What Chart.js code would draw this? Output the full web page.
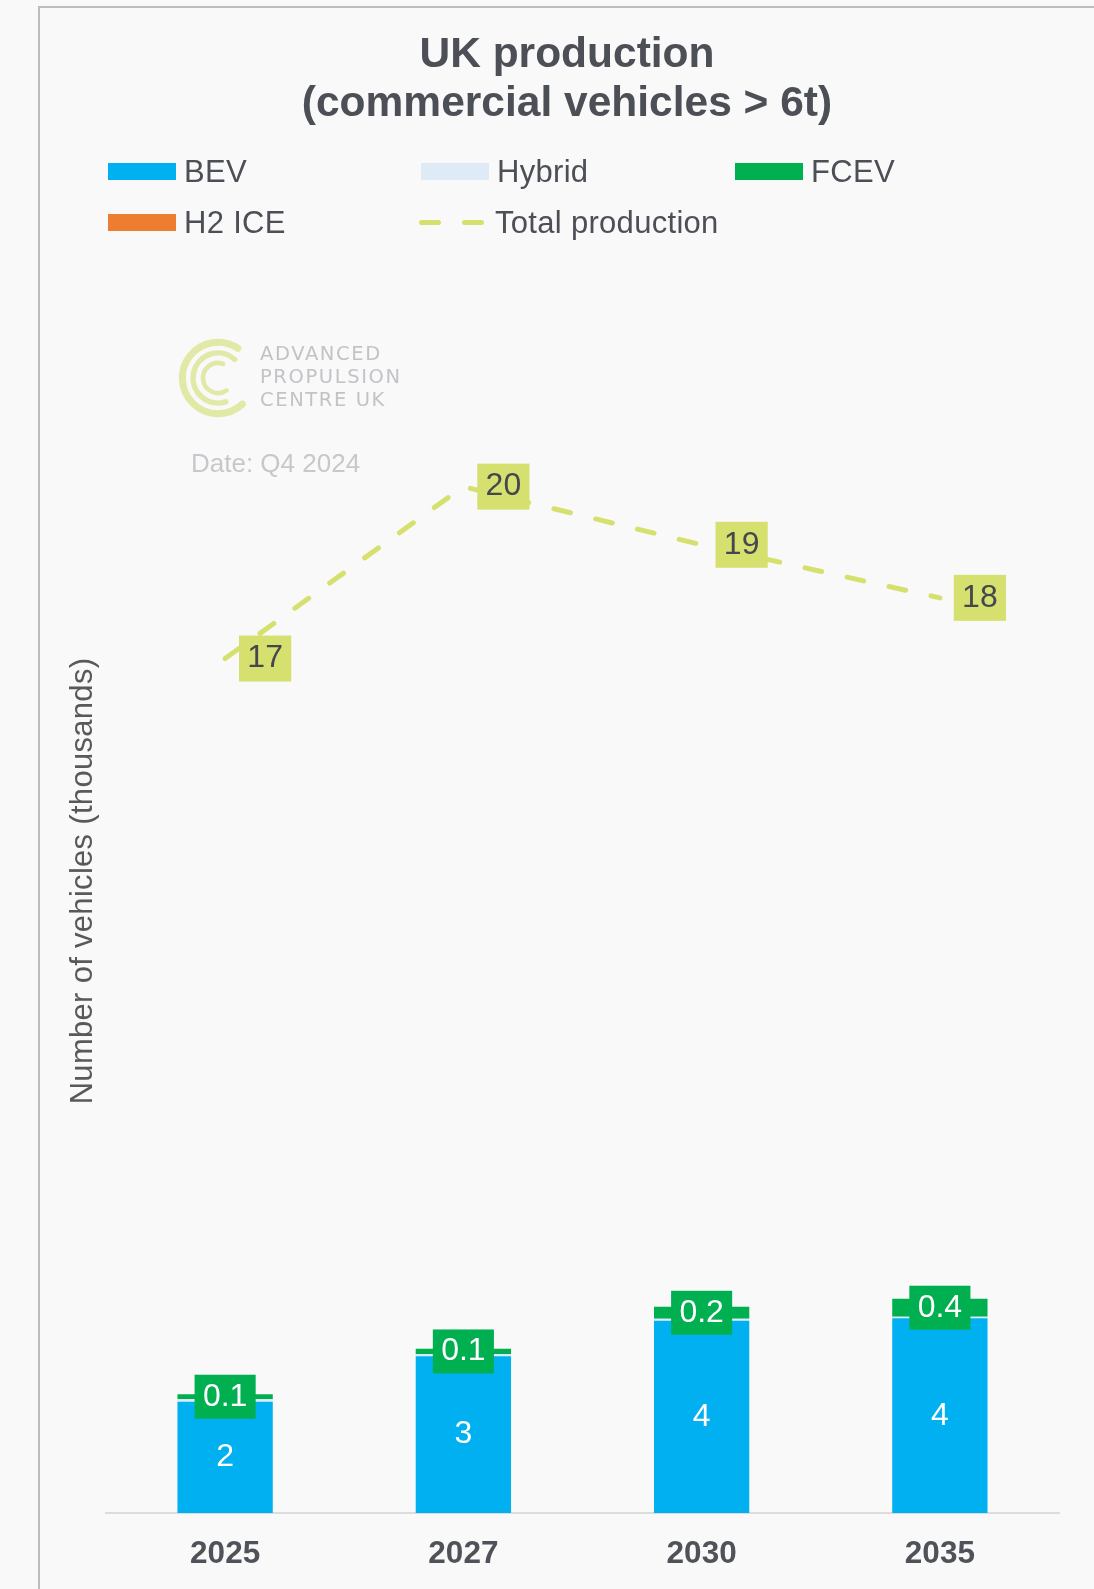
<!DOCTYPE html>
<html>
<head>
<meta charset="utf-8">
<title>UK production (commercial vehicles &gt; 6t)</title>
<script src="https://cdn.jsdelivr.net/npm/chart.js@4.4.1/dist/chart.umd.min.js"></script>
<style>
  html, body { margin: 0; padding: 0; background: #f9f9f9; }
  #page { position: relative; width: 1094px; height: 1589px; overflow: hidden;
          font-family: "Liberation Sans", Arial, sans-serif; }
  #frame { position: absolute; left: 38px; top: 6px; width: 1100px; height: 1600px;
           border-left: 2px solid #bcbcc1; border-top: 2px solid #bcbcc1; box-sizing: border-box; }
  #chart { position: absolute; left: 0; top: 0; }
  #title { position: absolute; left: 40px; width: 1054px; top: 28px; text-align: center;
           font-weight: bold; font-size: 42.5px; line-height: 49px; color: #4d4f57; }
  .lg-item { position: absolute; display: flex; align-items: center; height: 40px;
             font-size: 31px; letter-spacing: 0.3px; color: #4d4f57; white-space: nowrap; }
  .lg-swatch { width: 68px; height: 17px; margin-right: 8px; flex: none; display: block; }
  #logo { position: absolute; left: 170px; top: 330px; width: 100px; height: 100px; }
  #logoText { position: absolute; left: 260px; top: 343px; font-family: "DejaVu Sans", sans-serif;
              font-size: 19.5px; line-height: 22.75px; letter-spacing: 1.6px; color: #c2c3c7; }
  #date { position: absolute; left: 191px; top: 448px; font-size: 26px; line-height: 30px; color: #c8c8cc; }
</style>
</head>
<body>
<div id="page">
  <div id="frame"></div>
  <canvas id="chart" width="1094" height="1589"></canvas>
  <div id="title">UK production<br>(commercial vehicles &gt; 6t)</div>
  <div id="legend"></div>
  <svg id="logo" viewBox="0 0 100 100"></svg>
  <div id="logoText"><div>ADVANCED</div><div>PROPULSION</div><div>CENTRE UK</div></div>
  <div id="date">Date: Q4 2024</div>
</div>
<script>
// Production forecast, thousands of vehicles
const categories = ['2025', '2027', '2030', '2035'];
const bevValues = [2.2, 3.1, 3.8, 3.85];
const hybridValues = [0.05, 0.04, 0.04, 0.03];
const fcevValues = [0.1, 0.11, 0.24, 0.36];
const h2IceValues = [0, 0, 0, 0];
const totalProductionValues = [16.9, 20.3, 19.15, 18.1];
const yAxisMax = 25;

const FONT = '"Liberation Sans", Arial, sans-serif';
const COLORS = {
  bev: '#00b0f0', hybrid: '#deeaf6', fcev: '#00b050', h2ice: '#ed7d31', total: '#d6e06e'
};

// Axis title gets a touch of tracking; everything drawn from the datasets on resets it
const axisTitleSpacing = {
  id: 'axisTitleSpacing',
  beforeDraw(chart) { chart.ctx.letterSpacing = '0.3px'; },
  beforeDatasetsDraw(chart) { chart.ctx.letterSpacing = '0px'; }
};

function drawTag(ctx, text, cx, cy, fill, color, padX, h) {
  const w = ctx.measureText(text).width + 2 * padX;
  ctx.fillStyle = fill;
  ctx.fillRect(cx - w / 2, cy - h / 2, w, h);
  ctx.fillStyle = color;
  ctx.fillText(text, cx, cy);
}

// Value labels: BEV inside the bar, FCEV in a green tag, totals in a tag beside the line
const valueLabels = {
  id: 'valueLabels',
  afterDatasetsDraw(chart) {
    const ctx = chart.ctx;
    ctx.save();
    ctx.letterSpacing = '0px';
    ctx.font = '32px ' + FONT;
    ctx.textAlign = 'center';
    ctx.textBaseline = 'middle';

    chart.getDatasetMeta(0).data.forEach((bar, i) => {
      ctx.fillStyle = '#ffffff';
      ctx.fillText(String(Math.round(bevValues[i])), bar.x, (bar.y + bar.base) / 2);
    });

    chart.getDatasetMeta(2).data.forEach((bar, i) => {
      drawTag(ctx, fcevValues[i].toFixed(1), bar.x, (bar.y + bar.base) / 2,
              COLORS.fcev, '#ffffff', 8.3, 44);
    });

    chart.getDatasetMeta(4).data.forEach((pt, i) => {
      drawTag(ctx, String(Math.round(totalProductionValues[i])), pt.x + 40, pt.y,
              COLORS.total, '#45474e', 8.3, 46);
    });
    ctx.restore();
  }
};

const chart = new Chart(document.getElementById('chart'), {
  type: 'bar',
  data: {
    labels: categories,
    datasets: [
      { label: 'BEV', data: bevValues, backgroundColor: COLORS.bev },
      { label: 'Hybrid', data: hybridValues, backgroundColor: COLORS.hybrid },
      { label: 'FCEV', data: fcevValues, backgroundColor: COLORS.fcev },
      { label: 'H2 ICE', data: h2IceValues, backgroundColor: COLORS.h2ice },
      {
        type: 'line', label: 'Total production', data: totalProductionValues, stack: 'total',
        borderColor: COLORS.total, backgroundColor: COLORS.total, borderWidth: 5,
        borderDash: [17, 26], borderCapStyle: 'round', pointRadius: 0, fill: false, tension: 0
      }
    ]
  },
  options: {
    responsive: false,
    animation: false,
    devicePixelRatio: 1,
    datasets: { bar: { barPercentage: 0.4, categoryPercentage: 1.0, borderWidth: 0 } },
    layout: { padding: { top: 249, right: 35, bottom: 0, left: 0 } },
    plugins: { legend: { display: false }, title: { display: false }, tooltip: { enabled: false } },
    scales: {
      x: {
        stacked: true,
        grid: { display: false, drawTicks: false, tickLength: 0 },
        border: { display: true, color: '#dcdcdc', width: 2 },
        ticks: { z: 1, padding: 22, color: '#50525a', font: { family: FONT, size: 31.5, weight: 'bold' } },
        afterFit(scale) { scale.height = 76; }
      },
      y: {
        stacked: true, min: 0, max: yAxisMax,
        grid: { display: false, drawTicks: false },
        border: { display: false },
        ticks: { display: false },
        title: {
          display: true, text: 'Number of vehicles (thousands)', color: '#595959',
          font: { family: FONT, size: 31 }, padding: { top: 64.4, bottom: 0 }
        },
        afterFit(scale) { scale.width = 106; }
      }
    }
  },
  plugins: [axisTitleSpacing, valueLabels]
});

// Legend laid out as a three-column grid, built from the chart's datasets
const legendSlots = [
  { left: 108, top: 151.5 }, { left: 421, top: 151.5 }, { left: 735, top: 151.5 },
  { left: 108, top: 202.5 }, { left: 419, top: 202.5 }
];
const legendEl = document.getElementById('legend');
chart.data.datasets.forEach((ds, i) => {
  const item = document.createElement('div');
  item.className = 'lg-item';
  item.style.left = legendSlots[i].left + 'px';
  item.style.top = legendSlots[i].top + 'px';
  let swatch;
  if (ds.type === 'line') {
    swatch = document.createElementNS('http://www.w3.org/2000/svg', 'svg');
    swatch.setAttribute('class', 'lg-swatch');
    swatch.setAttribute('viewBox', '0 0 68 17');
    const ln = document.createElementNS('http://www.w3.org/2000/svg', 'line');
    ln.setAttribute('x1', '2.5'); ln.setAttribute('y1', '8.5');
    ln.setAttribute('x2', '66'); ln.setAttribute('y2', '8.5');
    ln.setAttribute('stroke', ds.borderColor);
    ln.setAttribute('stroke-width', ds.borderWidth);
    ln.setAttribute('stroke-linecap', 'round');
    ln.setAttribute('stroke-dasharray', ds.borderDash.join(' '));
    swatch.appendChild(ln);
  } else {
    swatch = document.createElement('span');
    swatch.className = 'lg-swatch';
    swatch.style.background = ds.backgroundColor;
  }
  item.appendChild(swatch);
  const txt = document.createElement('span');
  txt.textContent = ds.label;
  item.appendChild(txt);
  legendEl.appendChild(item);
});

// Concentric-arc logo mark
function arcPath(cx, cy, r, a0, a1) {
  const rad = Math.PI / 180;
  const x0 = cx + r * Math.cos(a0 * rad), y0 = cy + r * Math.sin(a0 * rad);
  const x1 = cx + r * Math.cos(a1 * rad), y1 = cy + r * Math.sin(a1 * rad);
  return `M${x0.toFixed(2)} ${y0.toFixed(2)} A${r} ${r} 0 1 0 ${x1.toFixed(2)} ${y1.toFixed(2)}`;
}
const logo = document.getElementById('logo');
[
  { r: 35.7, w: 7, a0: -56, a1: 47 },
  { r: 25, w: 5.5, a0: -48, a1: 72 },
  { r: 15, w: 4.5, a0: -70, a1: 55 }
].forEach(a => {
  const p = document.createElementNS('http://www.w3.org/2000/svg', 'path');
  p.setAttribute('d', arcPath(48, 48, a.r, a.a0, a.a1));
  p.setAttribute('fill', 'none');
  p.setAttribute('stroke', '#e2e8a6');
  p.setAttribute('stroke-width', a.w);
  p.setAttribute('stroke-linecap', 'round');
  logo.appendChild(p);
});
</script>
</body>
</html>
